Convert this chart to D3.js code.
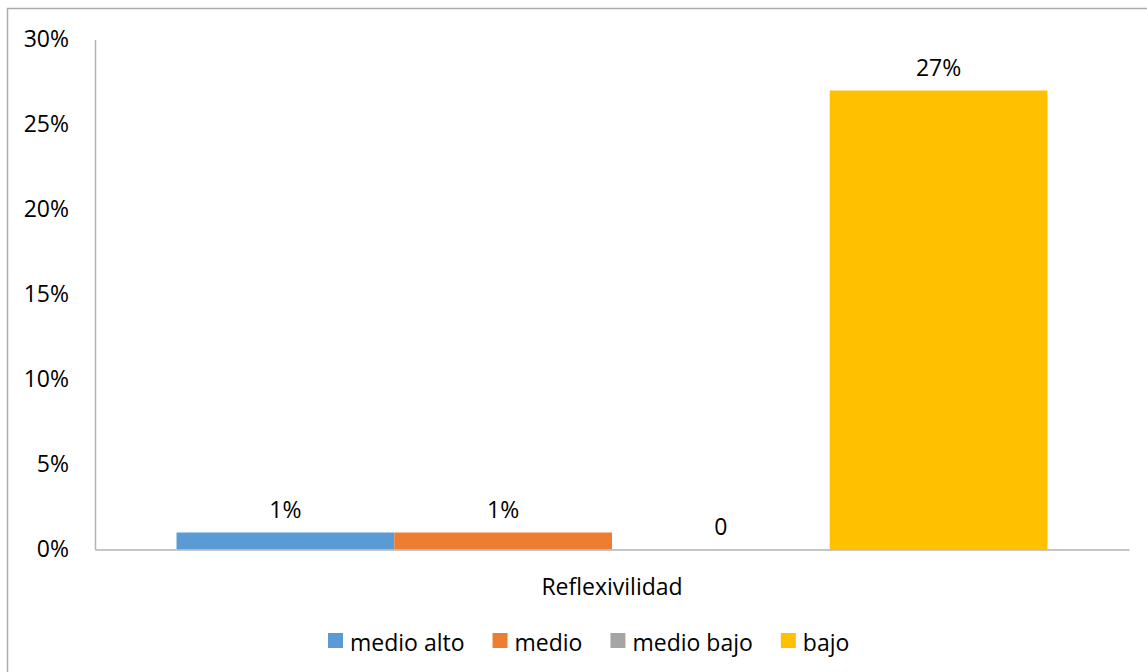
<!DOCTYPE html>
<html>
<head>
<meta charset="utf-8">
<script src="https://cdn.jsdelivr.net/npm/d3@7"></script>
<style>
html,body{margin:0;padding:0;background:#fff;}
svg{display:block;}
text{font-family:"Open Sans",sans-serif;fill:#000;}
</style>
</head>
<body>
<script>
const categories = ["Reflexivilidad"];
const series = ["medio alto", "medio", "medio bajo", "bajo"];
const values = [0.01, 0.01, 0, 0.27];
const valueLabels = ["1%", "1%", "0", "27%"];
const colors = ["#5B9BD5", "#ED7D31", "#A5A5A5", "#FFC000"];
const yTicks = [0, 0.05, 0.10, 0.15, 0.20, 0.25, 0.30];

(function () {
const W = 1147, H = 672;
const svg = d3.select("body").append("svg").attr("width", W).attr("height", H);

// outer frame
svg.append("rect").attr("x", 7.5).attr("y", 8.5).attr("width", W).attr("height", H)
  .attr("fill", "none").attr("stroke", "#ababab").attr("stroke-width", 1.5);

const pLeft = 95, pRight = 1129, pBottom = 549.5, pTop = 39.5;
const y = d3.scaleLinear().domain([0, 0.30]).range([pBottom, pTop]);
const x0 = d3.scaleBand().domain(categories).range([pLeft, pRight]).paddingInner(0).paddingOuter(0.0936);
const x1 = d3.scaleBand().domain(series).range([0, x0.bandwidth()]).padding(0);

const fs = 23;

// bars
const g = svg.append("g");
categories.forEach(cat => {
  series.forEach((s, i) => {
    const v = values[i];
    g.append("rect")
      .attr("x", x0(cat) + x1(s))
      .attr("y", y(v))
      .attr("width", x1.bandwidth())
      .attr("height", pBottom - y(v))
      .attr("fill", colors[i]);
    g.append("text")
      .attr("x", x0(cat) + x1(s) + x1.bandwidth() / 2)
      .attr("y", y(v) - 24)
      .attr("text-anchor", "middle")
      .attr("dominant-baseline", "central")
      .attr("font-size", fs)
      .text(valueLabels[i]);
  });
  svg.append("text")
    .attr("x", x0(cat) + x0.bandwidth() / 2)
    .attr("y", 586)
    .attr("text-anchor", "middle")
    .attr("dominant-baseline", "central")
    .attr("font-size", fs)
    .text(cat);
});

// axes
const yAxis = d3.axisLeft(y).tickValues(yTicks).tickFormat(d3.format(".0%")).tickSize(0).tickPadding(26);
const ya = svg.append("g").attr("transform", `translate(${pLeft},0)`).call(yAxis);
ya.select(".domain").attr("stroke", "#b3b3b3").attr("stroke-width", 1.5);
ya.selectAll("text").attr("font-size", fs).attr("font-family", "Open Sans").attr("fill", "#000");

const xAxis = d3.axisBottom(x0).tickSize(0).tickFormat("");
const xa = svg.append("g").attr("transform", `translate(0,${pBottom})`).call(xAxis);
xa.select(".domain").attr("stroke", "#b3b3b3").attr("stroke-width", 1.5);

// legend
const legend = svg.append("g");
let lx = 328;
series.forEach((s, i) => {
  legend.append("rect").attr("x", lx).attr("y", 633).attr("width", 15).attr("height", 15).attr("fill", colors[i]);
  const t = legend.append("text").attr("x", lx + 22).attr("y", 642)
    .attr("dominant-baseline", "central").attr("font-size", fs).text(s);
  lx += 22 + t.node().getComputedTextLength() + 28;
});
})();
</script>
</body>
</html>
